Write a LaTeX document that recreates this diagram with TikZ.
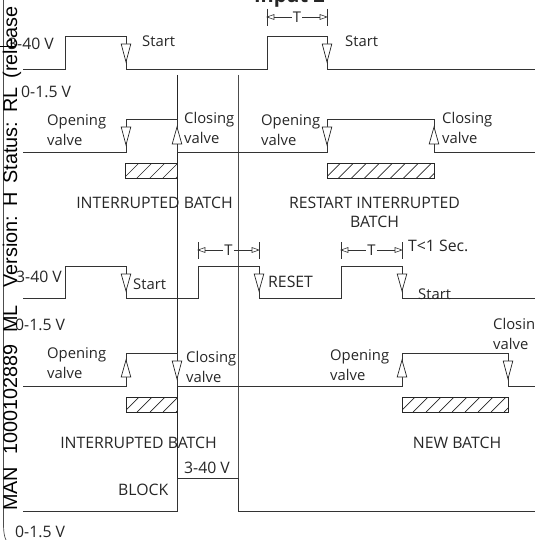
\documentclass[tikz,border=0pt]{standalone}
\usepackage{fontspec}
\setmainfont{Open Sans}
\newfontfamily\stampfont{Liberation Sans}
\tikzset{
  lbl/.style={font=\fontsize{14.8}{19.5}\selectfont, inner sep=0pt, text=black!85},
  caps/.style={lbl, font=\fontsize{15.8}{19.5}\selectfont},
  wave/.style={line width=0.8pt, black!80},
  dim/.style={line width=0.6pt, black!80},
  stamp/.style={font=\stampfont\fontsize{19.8}{20}\selectfont, inner sep=0pt, rotate=90, anchor=base west, text=black},
  hatch/.style={draw=black!85, line width=0.7pt},
  downtip/.style={draw=black!85, fill=white, line width=0.7pt},
}
% open triangle on a wave edge: x, y of base, y of point
\newcommand{\valvetip}[3]{\draw[downtip] (#1-4.8,#2) -- (#1+4.8,#2) -- (#1,#3) -- cycle;}
% hatched bar: x1, x2, y1, y2
\newcommand{\hatchbar}[4]{
  \begin{scope}
    \clip (#1,#3) rectangle (#2,#4);
    \foreach \hn in {0,...,9}
      \draw[hatch] ({#1+13*\hn},#3) -- ({#1+13*\hn-15},#4);
  \end{scope}
  \draw[hatch] (#1,#3) rectangle (#2,#4);
}
% T span with two end ticks
\newcommand{\tspan}[4]{
  \draw[dim] (#1,#3-8) -- (#1,#3+9);
  \draw[dim] (#2,#3-8) -- (#2,#3+9);
  \draw[dim] (#1,#3) -- (#1+7,#3-2.5) -- (#1+7,#3+2.5) -- cycle;
  \draw[dim] (#2,#3) -- (#2-7,#3-2.5) -- (#2-7,#3+2.5) -- cycle;
  \node[lbl, fill=white, inner xsep=1pt, inner ysep=0pt] (t#4) at ({(#1+#2)/2},#3) {T};
  \draw[dim] (#1+7,#3) -- (t#4) -- (#2-7,#3);
}
\begin{document}
\begin{tikzpicture}[x=1pt,y=-1pt]
  \useasboundingbox (0,0) rectangle (535,540);
  % guide lines
  \draw[line width=0.7pt, black!85] (177,75) -- (177,511);
  \draw[line width=0.7pt, black!70] (238,75) -- (238,511);
  % input 1
  \draw[wave] (23,69) -- (65,69) -- (65,36) -- (126,36) -- (126,69) -- (267,69) -- (267,36) -- (327,36) -- (327,69) -- (535,69);
  \valvetip{126}{44}{62}
  \valvetip{327}{44}{62}
  % output 1
  \draw[wave] (23,152) -- (126,152) -- (126,119) -- (177,119) -- (177,152) -- (327,152) -- (327,119) -- (434,119) -- (434,152) -- (535,152);
  \valvetip{126}{127}{145}
  \valvetip{327}{127}{145}
  \valvetip{177}{144}{127}
  \valvetip{434}{144}{127}
  \hatchbar{125.5}{177}{163.5}{178.5}
  \hatchbar{327}{434}{163.5}{178.5}
  % input 2
  \draw[wave] (23,298) -- (65,298) -- (65,266) -- (126,266) -- (126,298) -- (198,298) -- (198,266) -- (259,266) -- (259,298) -- (341,298) -- (341,266) -- (402,266) -- (402,298) -- (535,298);
  \valvetip{126}{274}{291}
  \valvetip{259}{274}{291}
  \valvetip{402}{274}{291}
  % output 2
  \draw[wave] (23,386) -- (126,386) -- (126,353) -- (177,353) -- (177,386) -- (402,386) -- (402,353) -- (508,353) -- (508,386) -- (535,386);
  \valvetip{126}{377}{360}
  \valvetip{177}{361}{379}
  \valvetip{402}{377}{360}
  \valvetip{508}{361}{379}
  \hatchbar{126}{177}{397}{412}
  \hatchbar{402}{508}{397}{412}
  % block
  \draw[wave] (23,511) -- (177,511) -- (177,478) -- (238,478) -- (238,511) -- (535,511);
  % T spans
  \tspan{267}{327}{17}{one}
  \tspan{198}{259}{250}{two}
  \tspan{341}{402}{250}{three}
  % labels
  \node[lbl, font=\fontsize{20}{22}\selectfont\bfseries, anchor=base] (input) at (289.5,3) {Input 2};
  \node[caps, anchor=west] (hi1) at (8,44) {3-40 V};
  \node[caps, anchor=west] (lo1) at (21,92) {0-1.5 V};
  \node[lbl, anchor=west] (st1) at (142,41) {Start};
  \node[lbl, anchor=west] (st2) at (345,41) {Start};
  \node[lbl, anchor=west, align=left] (op1) at (47,130) {Opening\\valve};
  \node[lbl, anchor=west, align=left] (cl1) at (184,128) {Closing\\valve};
  \node[lbl, anchor=west, align=left] (op2) at (261,130) {Opening\\valve};
  \node[lbl, anchor=west, align=left] (cl2) at (442,128) {Closing\\valve};
  \node[caps] (b1) at (154.5,203) {INTERRUPTED BATCH};
  \node[caps, align=center] (b2) at (374.5,212.5) {RESTART INTERRUPTED\\BATCH};
  \node[caps, anchor=west] (hi2) at (16,277) {3-40 V};
  \node[caps, anchor=west] (lo2) at (15,325) {0-1.5 V};
  \node[lbl, anchor=west] (st3) at (133,284) {Start};
  \node[caps, anchor=west] (res) at (268,282) {RESET};
  \node[caps, anchor=west] (lt) at (408,246) {T<1 Sec.};
  \node[lbl, anchor=west] (st4) at (418,294) {Start};
  \node[lbl, anchor=west, align=left] (op3) at (47,363) {Opening\\valve};
  \node[lbl, anchor=west, align=left] (cl3) at (186,367) {Closing\\valve};
  \node[lbl, anchor=west, align=left] (op4) at (330,365) {Opening\\valve};
  \node[lbl, anchor=west, align=left] (cl4) at (493,334) {Closin\\valve};
  \node[caps] (b3) at (138.5,443) {INTERRUPTED BATCH};
  \node[caps] (b4) at (457,443) {NEW BATCH};
  \node[caps, anchor=west] (blk) at (118,490) {BLOCK};
  \node[caps, anchor=west] (hi3) at (184,468) {3-40 V};
  \node[caps, anchor=west] (lo3) at (15,532) {0-1.5 V};
  % margin
  \draw[line width=0.7pt, black!70] (3.5,0) -- (3.5,525) .. controls (3.5,532) and (4.5,537) .. (6,540);
  \node[stamp] (stamp) at (17,511) {MAN\hspace{12pt}1000102889\hspace{12pt}ML\hspace{18pt}Version:\hspace{9pt}H\hspace{9pt}Status:\hspace{9pt}RL\hspace{9pt}(release};
  \draw[line width=0.8pt] (0,46) -- (15,46);
\end{tikzpicture}
\end{document}
